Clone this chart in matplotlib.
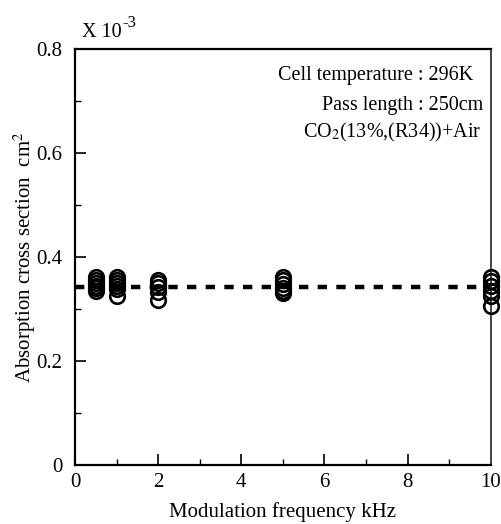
import matplotlib
matplotlib.use("Agg")
import matplotlib.pyplot as plt
from matplotlib.ticker import MultipleLocator

plt.rcParams['font.family'] = ['Liberation Serif', 'DejaVu Serif']
plt.rcParams['mathtext.fontset'] = 'stix'

# modulation frequency (kHz) and measured cross section (x 1e-3 cm^2)
freq_05 = [0.5] * 6
sigma_05 = [0.334, 0.340, 0.345, 0.350, 0.356, 0.362]
freq_1 = [1.0] * 6
sigma_1 = [0.325, 0.338, 0.345, 0.350, 0.356, 0.362]
freq_2 = [2.0] * 5
sigma_2 = [0.317, 0.333, 0.343, 0.350, 0.356]
freq_5 = [5.0] * 6
sigma_5 = [0.330, 0.335, 0.340, 0.348, 0.355, 0.362]
freq_10 = [10.0] * 6
sigma_10 = [0.305, 0.325, 0.335, 0.345, 0.353, 0.362]

mean_sigma = 0.343

fig = plt.figure(figsize=(5.01, 5.24), dpi=100)
ax = fig.add_axes([0.1497, 0.1126, 0.830, 0.794])

for f, s in [(freq_05, sigma_05), (freq_1, sigma_1), (freq_2, sigma_2),
             (freq_5, sigma_5), (freq_10, sigma_10)]:
    ax.plot(f, s, 'o', mfc='none', mec='black', mew=1.9, ms=10.5,
            clip_on=False, zorder=3)

ax.plot([0, 10], [mean_sigma, mean_sigma], color='black', lw=3.2,
        dashes=(2.1, 2.1), zorder=2)

ax.set_xlim(0, 10)
ax.set_ylim(0, 0.8)
ax.xaxis.set_minor_locator(MultipleLocator(1))
ax.yaxis.set_minor_locator(MultipleLocator(0.1))
ax.set_xticks([0, 2, 4, 6, 8, 10])
ax.set_xticklabels(['0', '2', '4', '6', '8', '10'])
ax.set_yticks([0, 0.2, 0.4, 0.6, 0.8])
ax.set_yticklabels(['0', '0.2', '0.4', '0.6', '0.8'])
ax.tick_params(which='major', direction='in', length=8, width=1.2,
               labelsize=15)
ax.tick_params(axis='y', which='major', pad=9)
ax.tick_params(axis='x', which='major', pad=6)
ax.tick_params(which='minor', direction='in', length=4, width=1)

for side in ['left', 'bottom', 'top']:
    ax.spines[side].set_linewidth(1.6)
ax.spines['right'].set_linewidth(1.4)
ax.spines['right'].set_color('#444444')

ax.set_xlabel('Modulation frequency kHz', fontsize=15, labelpad=7)
ax.set_ylabel('Absorption cross section  cm$^2$', fontsize=15, labelpad=-1)

# "X 10-3" multiplier label above the y axis
ax.text(0.017, 1.029, 'X 10', transform=ax.transAxes, fontsize=14.5,
        ha='left', va='baseline')
ax.annotate('-3', xy=(0.017, 1.029), xycoords='axes fraction',
            xytext=(29, 7), textcoords='offset points', fontsize=12,
            ha='left', va='baseline')

ax.text(0.957, 0.926, 'Cell temperature : 296K', transform=ax.transAxes,
        fontsize=14.5, ha='right', va='baseline')
ax.text(0.981, 0.853, 'Pass length : 250cm', transform=ax.transAxes,
        fontsize=14.5, ha='right', va='baseline')
ax.text(0.978, 0.786, 'CO$_2$(13%,(R34))+Air', transform=ax.transAxes,
        fontsize=14.5, ha='right', va='baseline')

fig.savefig('out.png', dpi=100)
